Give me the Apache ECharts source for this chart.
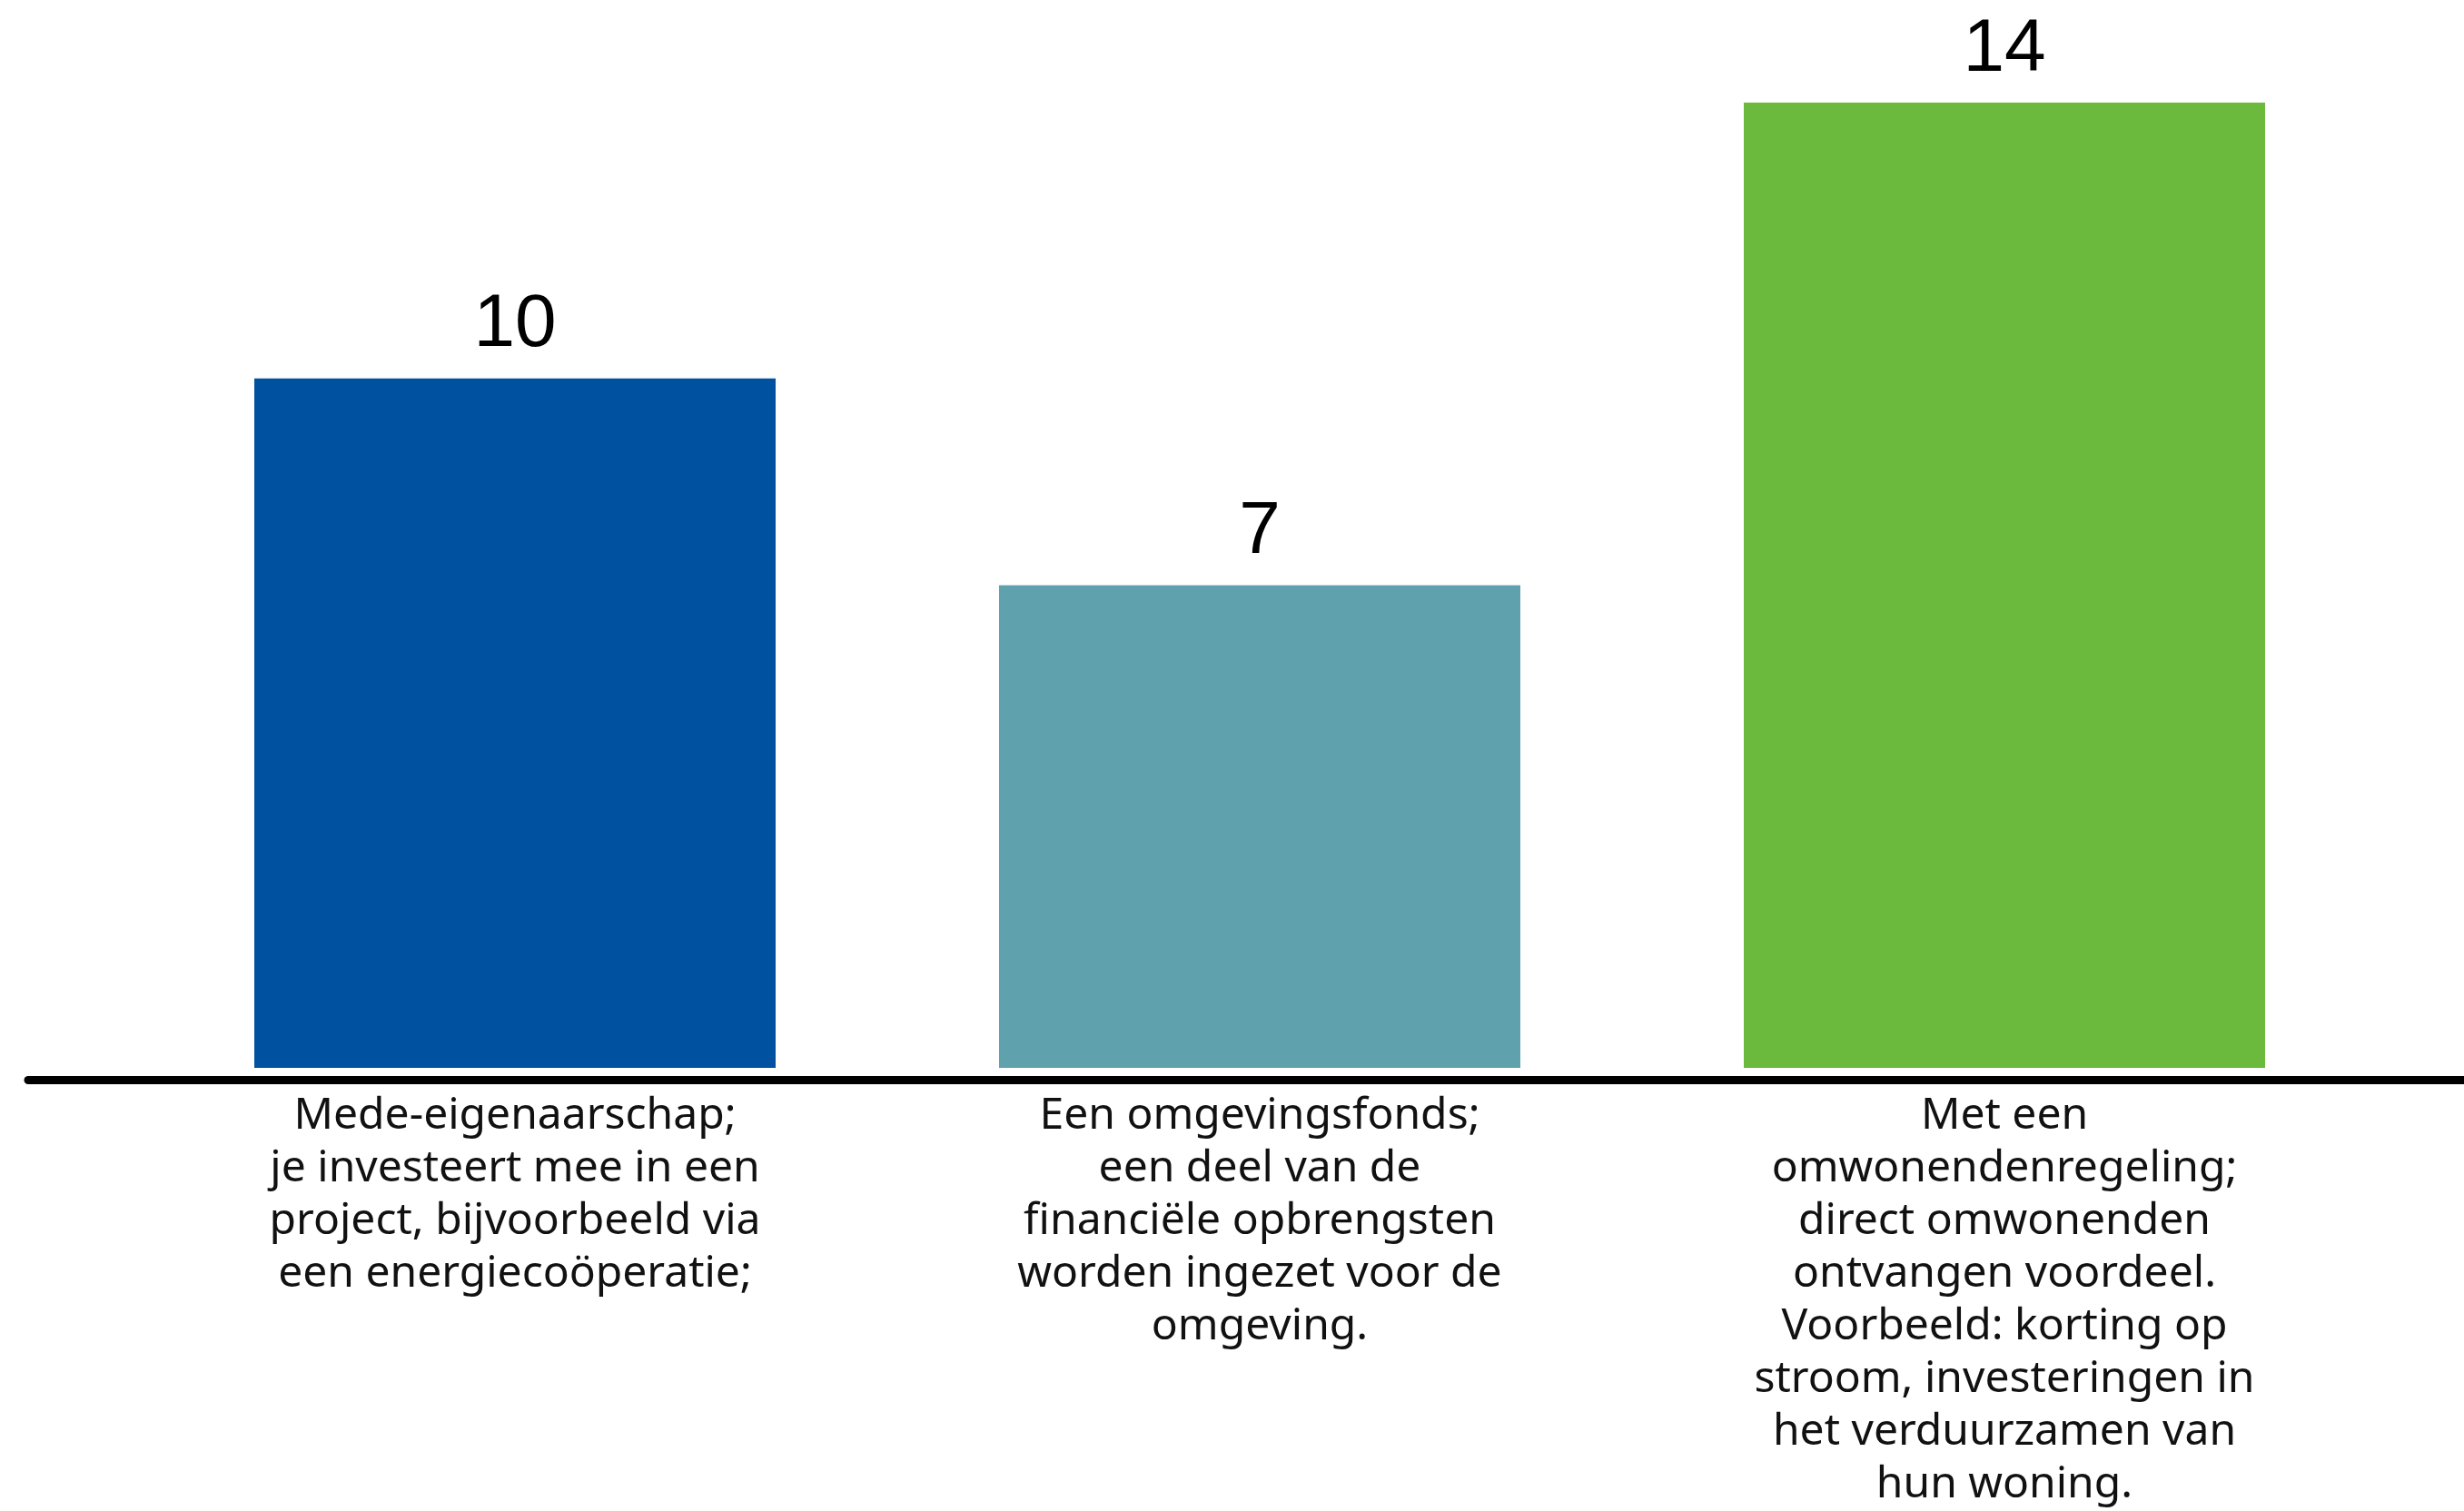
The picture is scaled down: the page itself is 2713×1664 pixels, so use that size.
<!DOCTYPE html>
<html>
<head>
<meta charset="utf-8">
<script src="https://cdn.jsdelivr.net/npm/echarts@6/dist/echarts.min.js"></script>
<style>html,body{margin:0;padding:0;background:#fff}#c{width:2713px;height:1664px}</style>
</head>
<body>
<div id="c"></div>
<script>
const categories = [
  "Mede-eigenaarschap;\nje investeert mee in een\nproject, bijvoorbeeld via\neen energiecoöperatie;",
  "Een omgevingsfonds;\neen deel van de\nfinanciële opbrengsten\nworden ingezet voor de\nomgeving.",
  "Met een\nomwonendenregeling;\ndirect omwonenden\nontvangen voordeel.\nVoorbeeld: korting op\nstroom, investeringen in\nhet verduurzamen van\nhun woning."
];
const values = [10, 7, 14];
const barColors = ["#0052A1", "#5FA1AD", "#6BB93D"];

const chart = echarts.init(document.getElementById('c'));
chart.setOption({
  backgroundColor: '#fff',
  animation: false,
  grid: [
    { left: 157, right: 96, top: 37, bottom: 475 },
    { left: 31, right: 0, top: 37, bottom: 475 }
  ],
  xAxis: [
    {
      type: 'category', gridIndex: 0, data: categories,
      axisLine: { show: false }, axisTick: { show: false },
      axisLabel: {
        interval: 0, margin: 24, color: '#111',
        fontFamily: 'Noto Sans', fontSize: 48, lineHeight: 58, align: 'center'
      }
    },
    {
      type: 'value', gridIndex: 1, min: 0, max: 1, position: 'bottom',
      axisLine: { show: true, onZero: false, lineStyle: { color: '#000', width: 9 } },
      axisTick: { show: false }, axisLabel: { show: false }, splitLine: { show: false }
    }
  ],
  yAxis: [
    { type: 'value', gridIndex: 0, min: 0, max: 15, show: false, splitLine: { show: false } },
    { type: 'value', gridIndex: 1, min: 0, max: 1, show: false }
  ],
  series: [{
    type: 'bar', xAxisIndex: 0, yAxisIndex: 0,
    data: values.map((v, i) => ({ value: v, itemStyle: { color: barColors[i] } })),
    barWidth: '70%',
    label: {
      show: true, position: 'top', distance: 17, color: '#000',
      fontFamily: 'Liberation Sans', fontSize: 82
    }
  }]
});
</script>
</body>
</html>
